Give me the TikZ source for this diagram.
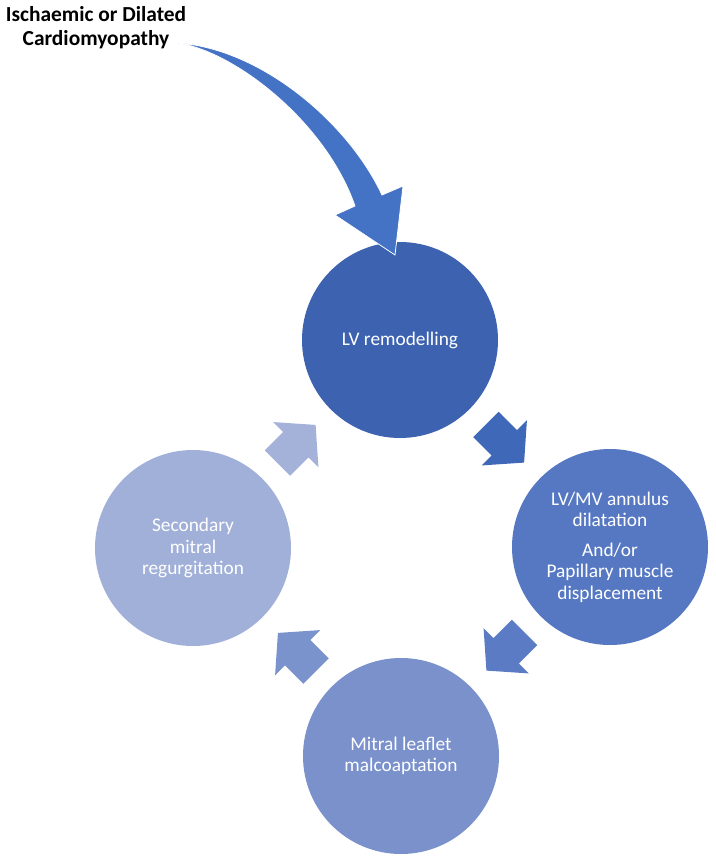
\documentclass[tikz,border=0pt]{standalone}
\usepackage{fontspec}
\setmainfont{Carlito}
\usetikzlibrary{calc}
\definecolor{cone}{RGB}{61,99,176}
\definecolor{ctwo}{RGB}{86,120,194}
\definecolor{cthree}{RGB}{122,145,204}
\definecolor{cfour}{RGB}{161,176,217}
\definecolor{bigarrow}{RGB}{68,114,196}
\definecolor{aone}{RGB}{64,104,184}
\definecolor{atwo}{RGB}{91,124,196}
\definecolor{athree}{RGB}{123,147,204}
\definecolor{afour}{RGB}{164,178,218}
\tikzset{
  stagecirc/.style={circle, minimum size=196bp, inner sep=0pt, text=white,
    align=center, font=\fontsize{19.4}{21.5}\selectfont},
  titletext/.style={align=center, font=\bfseries\fontsize{21.5}{24}\selectfont},
  blockarr/.style={draw=none},
}
\newcommand\blockarrow[3]{%
  \fill[blockarr,#3,shift={#1},rotate=#2] (27,0) -- (-1,32) -- (-1,18) -- (-27,18)
    -- (-27,-18) -- (-1,-18) -- (-1,-32) -- cycle;}
\begin{document}
\begin{tikzpicture}[x=1bp,y=-1bp]
\useasboundingbox (0,0) rectangle (716,862);
\node[titletext] (cause) at (96,28) {Ischaemic or Dilated\\Cardiomyopathy};
\node[stagecirc, fill=cone] (remod) at (400,340) {LV remodelling};
\node[stagecirc, fill=ctwo] (annulus) at (610,547) {LV/MV annulus\\dilatation\\[8bp]And/or\\Papillary muscle\\displacement};
\node[stagecirc, fill=cthree] (malco) at (401,756) {Mitral leaflet\\malcoaptation};
\node[stagecirc, fill=cfour] (smr) at (193,548) {Secondary\\mitral\\regurgitation};
\blockarrow{($(remod)!0.5!(annulus)$)}{-45}{aone}
\blockarrow{($(annulus)!0.5!(malco)$)}{-135}{atwo}
\blockarrow{($(malco)!0.5!(smr)$)}{135}{athree}
\blockarrow{($(smr)!0.5!(remod)$)}{45}{afour}
\coordinate (src) at (177,43);
\filldraw[fill=bigarrow, draw=white, line width=0.8bp, line join=miter]
  (src) .. controls (260,48) and (348,122) .. (382,195) -- (403,186) -- (395,255)
  -- (335,215) -- (355,206) .. controls (325,120) and (232,50) .. (src) -- cycle;
\end{tikzpicture}
\end{document}
